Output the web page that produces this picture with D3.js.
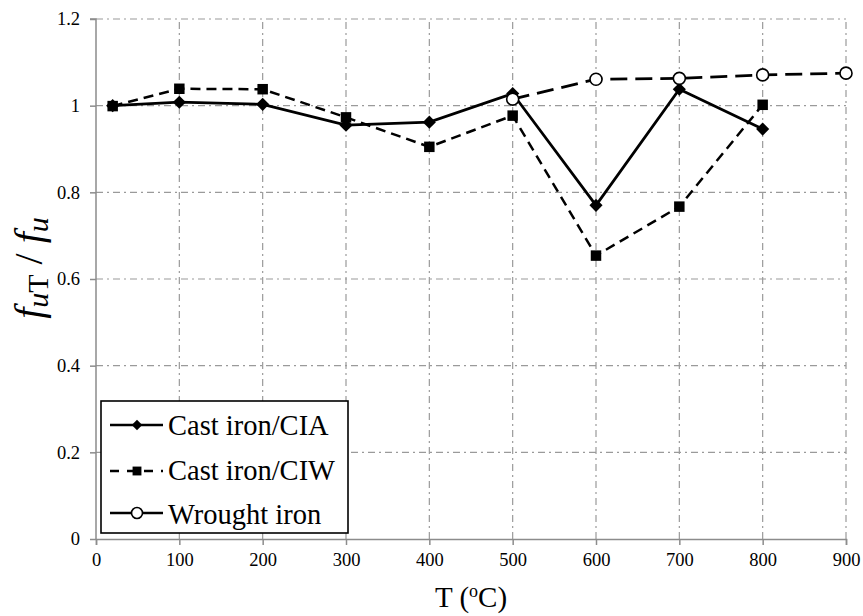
<!DOCTYPE html>
<html>
<head>
<meta charset="utf-8">
<script src="https://cdn.jsdelivr.net/npm/d3@7"></script>
<style>
  body { margin: 0; background: #fff; }
  svg { display: block; font-family: "Liberation Serif", "Times New Roman", serif; }
  .tick text { font-family: "Liberation Serif", "Times New Roman", serif !important; font-size: 18.5px; }
</style>
</head>
<body>
<svg id="chart" width="863" height="616"></svg>
<script>
// ---- data ----
const xTicks = [0, 100, 200, 300, 400, 500, 600, 700, 800, 900];
const yTicks = [0, 0.2, 0.4, 0.6, 0.8, 1.0, 1.2];
const seriesNames = ["Cast iron/CIA", "Cast iron/CIW", "Wrought iron"];
const ciaT = [20, 100, 200, 300, 400, 500, 600, 700, 800];
const ciaV = [1.0, 1.008, 1.003, 0.955, 0.962, 1.028, 0.77, 1.038, 0.946];
const ciwT = [20, 100, 200, 300, 400, 500, 600, 700, 800];
const ciwV = [0.999, 1.039, 1.038, 0.973, 0.905, 0.977, 0.654, 0.767, 1.002];
const wiT = [500, 600, 700, 800, 900];
const wiV = [1.015, 1.061, 1.063, 1.071, 1.075];

const serif = "Liberation Serif, Times New Roman, serif";
const svg = d3.select("#chart");
const x = d3.scaleLinear().domain([0, 900]).range([96, 846]);
const y = d3.scaleLinear().domain([0, 1.2]).range([539, 19]);
const gridColor = "#9a9a9a";
const dashDot = "7,4,2,4";

// gridlines
const grid = svg.append("g");
grid.selectAll("line.v").data(xTicks.filter(d => d > 0)).join("line")
  .attr("x1", d => x(d)).attr("x2", d => x(d))
  .attr("y1", y(0)).attr("y2", y(1.2))
  .attr("stroke", gridColor).attr("stroke-width", 1.2)
  .attr("stroke-dasharray", dashDot);
grid.selectAll("line.h").data(yTicks.filter(d => d > 0)).join("line")
  .attr("x1", x(0)).attr("x2", x(900))
  .attr("y1", d => y(d)).attr("y2", d => y(d))
  .attr("stroke", gridColor).attr("stroke-width", 1.2)
  .attr("stroke-dasharray", dashDot);

// axes
const xAxis = d3.axisBottom(x).tickValues(xTicks).tickSize(6).tickPadding(8).tickFormat(d3.format("d"));
const yAxis = d3.axisLeft(y).tickValues(yTicks).tickSize(6).tickPadding(10)
  .tickFormat(d => d === 0 ? "0" : String(+d.toFixed(1)));
const gx = svg.append("g").attr("transform", `translate(0,${y(0)})`).call(xAxis);
const gy = svg.append("g").attr("transform", `translate(${x(0)},0)`).call(yAxis);
[gx, gy].forEach(g => {
  g.attr("font-family", serif).attr("font-size", 18.5);
  g.select(".domain").attr("stroke", "#8c8c8c").attr("stroke-width", 1.5);
  g.selectAll(".tick line").attr("stroke", "#8c8c8c").attr("stroke-width", 1.5);
  g.selectAll(".tick text").attr("fill", "#000");
});
gy.select(".domain").attr("d", `M-6,${y(1.2)}H0V${y(0)}`);

// series
const line = d3.line().x(d => x(d[0])).y(d => y(d[1]));
const ciaData = d3.zip(ciaT, ciaV);
const ciwData = d3.zip(ciwT, ciwV);
const wiData = d3.zip(wiT, wiV);

svg.append("path").datum(wiData).attr("d", line)
  .attr("fill", "none").attr("stroke", "#000").attr("stroke-width", 2.8)
  .attr("stroke-dasharray", "17,8");
svg.append("path").datum(ciwData).attr("d", line)
  .attr("fill", "none").attr("stroke", "#000").attr("stroke-width", 2.5)
  .attr("stroke-dasharray", "10,6");
svg.append("path").datum(ciaData).attr("d", line)
  .attr("fill", "none").attr("stroke", "#000").attr("stroke-width", 2.8);

const diamond = d3.symbol().type(d3.symbolDiamond2).size(110);
const square = d3.symbol().type(d3.symbolSquare2).size(140);

svg.append("g").selectAll("path").data(ciwData).join("path")
  .attr("d", square).attr("transform", d => `translate(${x(d[0])},${y(d[1])})`)
  .attr("fill", "#000");
svg.append("g").selectAll("path").data(ciaData).join("path")
  .attr("d", diamond).attr("transform", d => `translate(${x(d[0])},${y(d[1])})`)
  .attr("fill", "#000");
svg.append("g").selectAll("circle").data(wiData).join("circle")
  .attr("cx", d => x(d[0])).attr("cy", d => y(d[1])).attr("r", 6)
  .attr("fill", "#fff").attr("stroke", "#000").attr("stroke-width", 1.6);

// legend
const lg = svg.append("g");
lg.append("rect").attr("x", 101).attr("y", 401).attr("width", 247).attr("height", 132)
  .attr("fill", "#fff").attr("stroke", "#000").attr("stroke-width", 1.6);
const rows = [
  { name: seriesNames[0], ly: 425, ty: 435, dash: null, mark: "diamond" },
  { name: seriesNames[1], ly: 471, ty: 480, dash: "9,9", mark: "square" },
  { name: seriesNames[2], ly: 513, ty: 524, dash: null, mark: "circle" }
];
rows.forEach(r => {
  lg.append("line").attr("x1", 110).attr("x2", 163).attr("y1", r.ly).attr("y2", r.ly)
    .attr("stroke", "#000").attr("stroke-width", 2.6)
    .attr("stroke-dasharray", r.dash ? "9,8" : null);
  if (r.mark === "diamond") {
    lg.append("path").attr("d", d3.symbol().type(d3.symbolDiamond2).size(70))
      .attr("transform", `translate(137,${r.ly})`).attr("fill", "#000");
  } else if (r.mark === "square") {
    lg.append("path").attr("d", d3.symbol().type(d3.symbolSquare2).size(100))
      .attr("transform", `translate(137,${r.ly})`).attr("fill", "#000");
  } else {
    lg.append("circle").attr("cx", 137).attr("cy", r.ly).attr("r", 5.5)
      .attr("fill", "#fff").attr("stroke", "#000").attr("stroke-width", 1.6);
  }
  lg.append("text").attr("x", 168).attr("y", r.ty).text(r.name)
    .style("font-size", "28.5px").attr("fill", "#000");
});

// axis titles
const xt = svg.append("text").attr("x", 471).attr("y", 607).attr("text-anchor", "middle")
  .style("font-size", "29px").attr("fill", "#000");
xt.append("tspan").text("T (");
xt.append("tspan").text("o").attr("dy", -10).style("font-size", "18px");
xt.append("tspan").text("C)").attr("dy", 10);

const yt = svg.append("text").attr("transform", `translate(42,268) rotate(-90)`)
  .attr("text-anchor", "middle").style("font-size", "40px").attr("fill", "#000");
yt.append("tspan").text("f").style("font-style", "italic");
yt.append("tspan").text("u").style("font-style", "italic").style("font-size", "30px").attr("dy", 6);
yt.append("tspan").text("T").style("font-size", "30px");
yt.append("tspan").text(" / ").attr("dy", -6);
yt.append("tspan").text("f").style("font-style", "italic");
yt.append("tspan").text("u").style("font-style", "italic").style("font-size", "30px").attr("dy", 6);
</script>
</body>
</html>
